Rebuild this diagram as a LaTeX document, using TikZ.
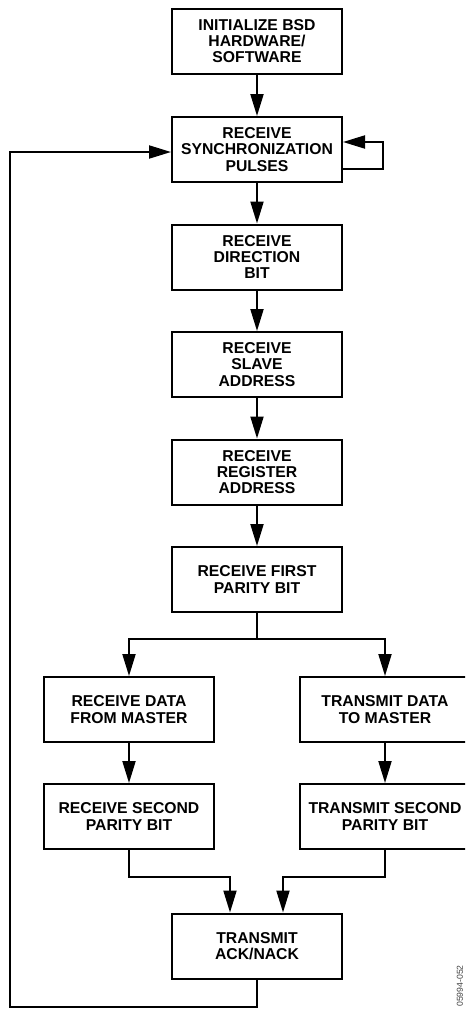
\documentclass[tikz,border=0pt]{standalone}
\usepackage{fontspec}
\setmainfont{Liberation Sans}
\usetikzlibrary{arrows.meta, calc}

\begin{document}
\begin{tikzpicture}[
    x=0.75pt, y=-0.75pt,
    >={Triangle[length=16.5pt, width=9.75pt]},
    stepbox/.style = {rectangle, draw=black, line width=1.5pt, minimum width=127.5pt,
                      minimum height=48.75pt, inner sep=2pt, align=center,
                      font=\fontsize{11.8pt}{12.2pt}\selectfont\bfseries},
    flow/.style    = {->, line width=1.5pt, black},
    figno/.style   = {font=\fontsize{6.5pt}{7pt}\selectfont, black!75, rotate=90}
  ]
  \clip (0,0) rectangle (465,1011);

  % --- nodes ---
  \node[stepbox] (init)  at (257,41)    {INITIALIZE BSD\\HARDWARE/\\SOFTWARE};
  \node[stepbox] (sync)  at (257,149.5) {RECEIVE\\SYNCHRONIZATION\\PULSES};
  \node[stepbox] (dir)   at (257,257)   {RECEIVE\\DIRECTION\\BIT};
  \node[stepbox] (slave) at (257,364.5) {RECEIVE\\SLAVE\\ADDRESS};
  \node[stepbox] (reg)   at (257,472)   {RECEIVE\\REGISTER\\ADDRESS};
  \node[stepbox] (par1)  at (257,579.5) {RECEIVE FIRST\\PARITY BIT};

  \node[stepbox] (datarx) at (129,709.5) {RECEIVE DATA\\FROM MASTER};
  \node[stepbox] (datatx) at (385,709.5) {TRANSMIT DATA\\TO MASTER};
  \node[stepbox] (par2rx) at (129,816.5) {RECEIVE SECOND\\PARITY BIT};
  \node[stepbox] (par2tx) at (385,816.5) {TRANSMIT SECOND\\PARITY BIT};

  \node[stepbox] (ack)   at (257,946)   {TRANSMIT\\ACK/NACK};

  \node[figno] (fig) at (460,986) {05994-052};

  % --- main chain ---
  \draw[flow] (init) -- (sync);
  \draw[flow] (sync) -- (dir);
  \draw[flow] (dir) -- (slave);
  \draw[flow] (slave) -- (reg);
  \draw[flow] (reg) -- (par1);

  % --- self loop on sync ---
  \draw[flow] ($(sync.east)+(0,19.5)$) -- ++(40,0) |- ($(sync.east)+(0,-7.5)$);

  % --- split into the two branches ---
  \draw[flow] (par1.south) -- ++(0,26) coordinate (split) -| (datarx.north);
  \draw[flow] (split) -| (datatx.north);
  \draw[flow] (datarx) -- (par2rx);
  \draw[flow] (datatx) -- (par2tx);

  % --- merge into ack ---
  \draw[flow] (par2rx.south) -- ++(0,27) -| ($(ack.north)+(-27,0)$);
  \draw[flow] (par2tx.south) -- ++(0,27) -| ($(ack.north)+(26,0)$);

  % --- back to sync ---
  \coordinate (loopbl) at (10,1007);
  \draw[flow] (ack.south) |- (loopbl) |- ($(sync.west)+(0,2.5)$);

\end{tikzpicture}
\end{document}
